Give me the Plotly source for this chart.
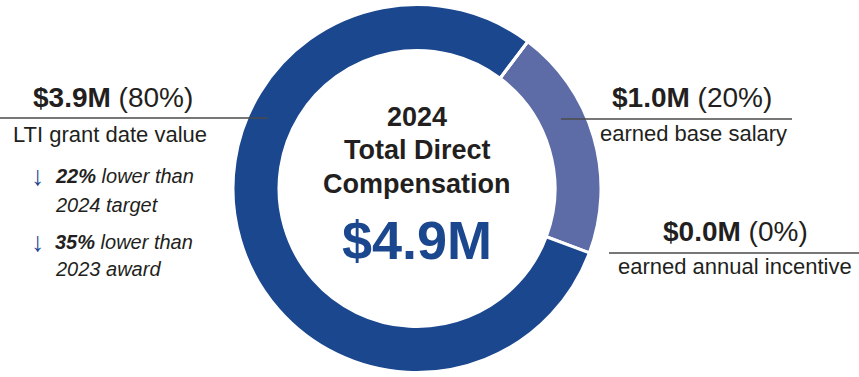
import plotly.graph_objects as go

W, H = 859, 377

categories = ["earned base salary", "LTI grant date value", "earned annual incentive"]
values = [1.0, 3.9, 0.0]
pct_labels = ["20%", "80%", "0%"]
amount_labels = ["$1.0M", "$3.9M", "$0.0M"]
total_label = "$4.9M"
colors = ["#5d6ba7", "#1b478e", "#1b478e"]

DARK = "#231f20"
BLUE = "#1b478e"
FONT = "Liberation Sans, Arial, Helvetica, sans-serif"


def px(x):
    return x / W


def py(y):
    return 1 - y / H


cx, cy, R = 417, 188.5, 184

fig = go.Figure()
fig.add_trace(go.Pie(
    labels=categories,
    values=values,
    sort=False,
    direction="clockwise",
    rotation=37,
    hole=0.75,
    marker=dict(colors=colors, line=dict(color="white", width=3)),
    textinfo="none",
    hoverinfo="skip",
    showlegend=False,
    domain=dict(x=[px(cx - R), px(cx + R)], y=[py(cy + R), py(cy - R)]),
))

ann = []


def add(text, x, y, size, color=DARK, xanchor="center"):
    ann.append(dict(text=text, x=px(x), y=py(y), xref="paper", yref="paper",
                    xanchor=xanchor, yanchor="middle", showarrow=False,
                    font=dict(family=FONT, size=size, color=color)))


# Left: LTI
add(f"<b>{amount_labels[1]}</b> ({pct_labels[1]})", 113, 97, 28)
add(categories[1], 110, 134, 22)
add("↓", 38, 176, 27, color=BLUE)
add("<b><i>22%</i></b><i> lower than</i>", 53, 176, 20, xanchor="left")
add("<i>2024 target</i>", 53, 205, 20, xanchor="left")
add("↓", 38, 242, 27, color=BLUE)
add("<b><i>35%</i></b><i> lower than</i>", 53, 242, 20, xanchor="left")
add("<i>2023 award</i>", 53, 269, 20, xanchor="left")

# Right top: base salary
add(f"<b>{amount_labels[0]}</b> ({pct_labels[0]})", 692, 97, 28)
add(categories[0], 693, 133, 22)

# Right bottom: incentive
add(f"<b>{amount_labels[2]}</b> ({pct_labels[2]})", 735, 231, 28)
add(categories[2], 735, 266, 22)

# Center
add("<b>2024</b>", cx, 117, 27)
add("<b>Total Direct</b>", cx, 150, 27)
add("<b>Compensation</b>", cx, 184, 27)
add(f"<b>{total_label}</b>", cx, 240, 54, color=BLUE)

shapes = [
    dict(type="line", xref="paper", yref="paper", x0=px(0), x1=px(268), y0=py(118), y1=py(118),
         line=dict(color="#4a4a4a", width=1.3)),
    dict(type="line", xref="paper", yref="paper", x0=px(561), x1=px(792), y0=py(119), y1=py(119),
         line=dict(color="#4a4a4a", width=1.3)),
    dict(type="line", xref="paper", yref="paper", x0=px(609), x1=px(859), y0=py(253), y1=py(253),
         line=dict(color="#4a4a4a", width=1.3)),
]

fig.update_layout(
    width=W, height=H,
    margin=dict(l=0, r=0, t=0, b=0),
    paper_bgcolor="white", plot_bgcolor="white",
    annotations=ann, shapes=shapes,
)

fig.write_html("out.html")
